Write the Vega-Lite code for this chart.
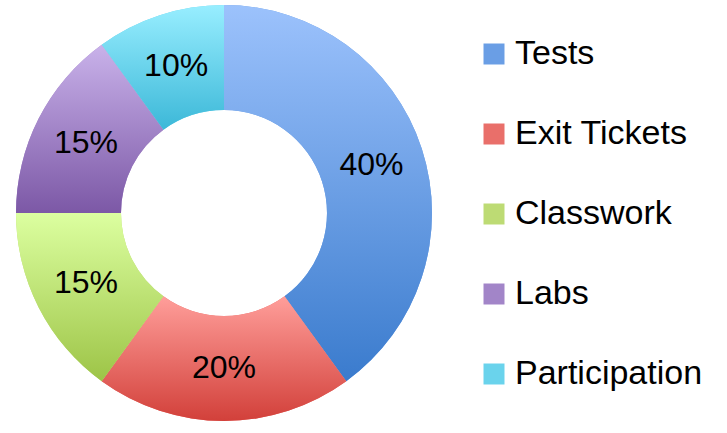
{
  "$schema": "https://vega.github.io/schema/vega-lite/v6.json",
  "width": 448,
  "height": 426,
  "padding": 0,
  "background": "white",
  "data": {"values": [
    {"category": "Tests", "value": 40, "label": "40%", "ord": 1},
    {"category": "Exit Tickets", "value": 20, "label": "20%", "ord": 2},
    {"category": "Classwork", "value": 15, "label": "15%", "ord": 3},
    {"category": "Labs", "value": 15, "label": "15%", "ord": 4},
    {"category": "Participation", "value": 10, "label": "10%", "ord": 5}
  ]},
  "encoding": {
    "theta": {"field": "value", "type": "quantitative", "stack": true},
    "order": {"field": "ord", "type": "quantitative"}
  },
  "layer": [
    {
      "mark": {"type": "arc", "innerRadius": 103, "outerRadius": 208},
      "encoding": {
        "color": {
          "field": "category",
          "type": "nominal",
          "scale": {
            "domain": ["Tests", "Exit Tickets", "Classwork", "Labs", "Participation"],
            "range": ["#6a9ee5", "#e96f6a", "#bddb74", "#a285c8", "#6ad3ec"]
          },
          "legend": {
            "title": null,
            "orient": "none",
            "legendX": 477,
            "legendY": 37,
            "symbolType": "square",
            "symbolSize": 441,
            "symbolStrokeWidth": 0,
            "symbolOpacity": 1,
            "labelFont": "Liberation Sans",
            "labelFontSize": 34,
            "labelColor": "black",
            "labelOffset": 4,
            "rowPadding": 46,
            "labelLimit": 300,
            "encode": {
              "symbols": {
                "update": {
                  "fill": [
                    {"test": "datum.value === 'Tests'", "value": {"gradient": "linear", "x1": 0, "y1": 0, "x2": 0, "y2": 1, "stops": [{"offset": 0, "color": "#9cc2fc"}, {"offset": 1, "color": "#3a7bcd"}]}},
                    {"test": "datum.value === 'Exit Tickets'", "value": {"gradient": "linear", "x1": 0, "y1": 0, "x2": 0, "y2": 1, "stops": [{"offset": 0, "color": "#ff9e9a"}, {"offset": 1, "color": "#d2403a"}]}},
                    {"test": "datum.value === 'Classwork'", "value": {"gradient": "linear", "x1": 0, "y1": 0, "x2": 0, "y2": 1, "stops": [{"offset": 0, "color": "#dcffa0"}, {"offset": 1, "color": "#9dc447"}]}},
                    {"test": "datum.value === 'Labs'", "value": {"gradient": "linear", "x1": 0, "y1": 0, "x2": 0, "y2": 1, "stops": [{"offset": 0, "color": "#c9b2ea"}, {"offset": 1, "color": "#7c58a6"}]}},
                    {"value": {"gradient": "linear", "x1": 0, "y1": 0, "x2": 0, "y2": 1, "stops": [{"offset": 0, "color": "#98eeff"}, {"offset": 1, "color": "#3cb8d8"}]}}
                  ]
                }
              }
            }
          }
        }
      }
    },
    {
      "mark": {"type": "arc", "innerRadius": 103, "outerRadius": 208},
      "encoding": {
        "detail": {"field": "category", "type": "nominal"},
        "fill": {
          "condition": [
            {"test": "datum.category === 'Tests'", "value": {"gradient": "linear", "x1": 0, "y1": 0, "x2": 0, "y2": 1, "stops": [{"offset": 0, "color": "#9cc2fc"}, {"offset": 1, "color": "#3a7bcd"}]}},
            {"test": "datum.category === 'Exit Tickets'", "value": {"gradient": "linear", "x1": 0, "y1": 0, "x2": 0, "y2": 1, "stops": [{"offset": 0, "color": "#ff9e9a"}, {"offset": 1, "color": "#d2403a"}]}},
            {"test": "datum.category === 'Classwork'", "value": {"gradient": "linear", "x1": 0, "y1": 0, "x2": 0, "y2": 1, "stops": [{"offset": 0, "color": "#dcffa0"}, {"offset": 1, "color": "#9dc447"}]}},
            {"test": "datum.category === 'Labs'", "value": {"gradient": "linear", "x1": 0, "y1": 0, "x2": 0, "y2": 1, "stops": [{"offset": 0, "color": "#c9b2ea"}, {"offset": 1, "color": "#7c58a6"}]}}
          ],
          "value": {"gradient": "linear", "x1": 0, "y1": 0, "x2": 0, "y2": 1, "stops": [{"offset": 0, "color": "#98eeff"}, {"offset": 1, "color": "#3cb8d8"}]}
        }
      }
    },
    {
      "mark": {"type": "text", "radius": 155, "fontSize": 32, "font": "Liberation Sans", "color": "black"},
      "encoding": {
        "text": {"field": "label", "type": "nominal"},
        "detail": {"field": "category", "type": "nominal"}
      }
    }
  ],
  "config": {"view": {"stroke": null}}
}
